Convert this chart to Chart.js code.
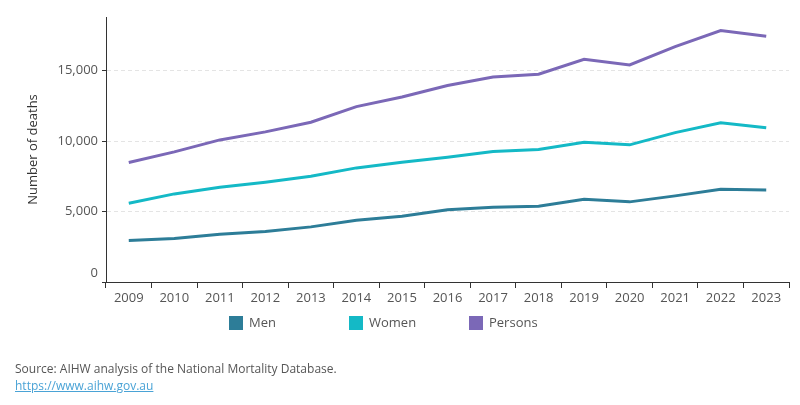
<!DOCTYPE html>
<html>
<head>
<meta charset="utf-8">
<script src="https://cdn.jsdelivr.net/npm/chart.js@4.4.1/dist/chart.umd.min.js"></script>
<style>
  html, body { margin: 0; padding: 0; background: #fff; }
  #wrap { position: relative; width: 800px; height: 405px; overflow: hidden; font-family: "Open Sans", sans-serif; }
  canvas { position: absolute; left: 0; top: 0; }
  .legend-item { position: absolute; top: 314px; font-size: 13px; color: #555; line-height: 16px; white-space: nowrap; }
  .legend-item span.box { display: inline-block; width: 14px; height: 14px; vertical-align: -3px; margin-right: 6px; }
  #source { position: absolute; left: 15px; top: 360px; font-size: 12px; color: #555; line-height: 17px; }
  #source a { color: #4aa3d6; text-decoration: underline; }
</style>
</head>
<body>
<div id="wrap">
  <canvas id="c" width="800" height="405"></canvas>
  <div id="legend"></div>
  <div id="source">Source: AIHW analysis of the National Mortality Database.<br><a href="https://www.aihw.gov.au">https://www.aihw.gov.au</a></div>
</div>
<script>
const years = ["2009","2010","2011","2012","2013","2014","2015","2016","2017","2018","2019","2020","2021","2022","2023"];
const men     = [2940, 3085, 3390, 3580, 3910, 4385, 4670, 5120, 5305, 5380, 5875, 5685, 6110, 6585, 6535];
const women   = [5590, 6250, 6725, 7080, 7505, 8095, 8500, 8855, 9255, 9395, 9915, 9730, 10600, 11290, 10935];
const persons = [8475, 9230, 10080, 10650, 11335, 12445, 13130, 13935, 14550, 14740, 15805, 15400, 16700, 17835, 17435];
const seriesNames = ["Men", "Women", "Persons"];
const seriesColors = ["#2d7d98", "#14b9c6", "#7b68b7"];
const yTicks = [0, 5000, 10000, 15000];
const yTitle = "Number of deaths";

const textColor = "#555555";
const fontFamily = "'Open Sans', sans-serif";

const seriesData = [men, women, persons];
const datasets = seriesNames.map((name, i) => ({
  label: name,
  data: seriesData[i],
  borderColor: seriesColors[i],
  backgroundColor: seriesColors[i],
  borderWidth: 3,
  pointRadius: 0,
  pointHoverRadius: 0,
  tension: 0,
  fill: false
}));

// The zero label sits a little above the axis line in the reference
const zeroLabelPlugin = {
  id: "zeroLabel",
  afterDraw(chart) {
    const y = chart.scales.y;
    const ctx = chart.ctx;
    ctx.save();
    ctx.font = "13px " + fontFamily;
    ctx.fillStyle = textColor;
    ctx.textAlign = "right";
    ctx.textBaseline = "middle";
    ctx.fillText((0).toLocaleString("en-US"), y.right - 8, y.getPixelForValue(0) - 9);
    ctx.restore();
  }
};

new Chart(document.getElementById("c"), {
  type: "line",
  data: { labels: years, datasets: datasets },
  plugins: [zeroLabelPlugin],
  options: {
    responsive: false,
    animation: false,
    events: [],
    layout: { padding: { left: 0, right: 11, top: 17, bottom: 0 } },
    plugins: { legend: { display: false }, tooltip: { enabled: false } },
    scales: {
      x: {
        type: "category",
        offset: true,
        grid: { display: true, drawOnChartArea: false, drawTicks: true, tickLength: 6, color: "#333", offset: true },
        border: { display: true, color: "#333", width: 1 },
        ticks: { color: textColor, font: { family: fontFamily, size: 13 }, padding: 2, maxRotation: 0, autoSkip: false },
        afterFit: (axis) => { axis.height = 123; }
      },
      y: {
        min: 0,
        max: 18800,
        ticks: {
          color: textColor,
          font: { family: fontFamily, size: 13 },
          padding: 4,
          callback: (v) => v === 0 ? "" : v.toLocaleString("en-US")
        },
        afterBuildTicks: (axis) => { axis.ticks = yTicks.map(v => ({ value: v })); },
        grid: {
          color: "#e4e4e4",
          lineWidth: 1,
          drawTicks: true,
          tickLength: 4,
          tickColor: "#333"
        },
        border: { display: true, color: "#333", width: 1, dash: [4, 3] },
        title: {
          display: true,
          text: yTitle,
          color: "#333",
          font: { family: fontFamily, size: 13 },
          padding: { top: 25, bottom: 0 }
        },
        afterFit: (axis) => { axis.width = 106; }
      }
    }
  }
});

// Legend as real text
const legendLefts = [229, 349, 469];
const legend = document.getElementById("legend");
seriesNames.forEach((name, i) => {
  const d = document.createElement("div");
  d.className = "legend-item";
  d.style.left = legendLefts[i] + "px";
  d.innerHTML = '<span class="box" style="background:' + seriesColors[i] + '"></span>' + name;
  legend.appendChild(d);
});
</script>
</body>
</html>
